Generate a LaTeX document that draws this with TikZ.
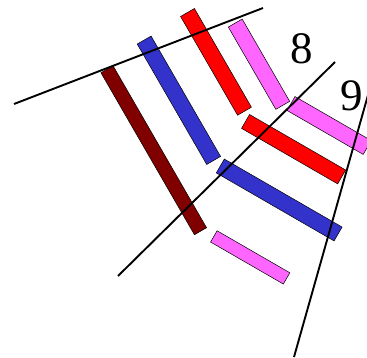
\documentclass[tikz,border=0pt]{standalone}
\usepackage{fontspec}
\setmainfont{Liberation Serif}
\definecolor{maroonc}{RGB}{128,0,0}
\definecolor{bluec}{RGB}{51,51,204}
\definecolor{redc}{RGB}{255,0,0}
\definecolor{pinkc}{RGB}{255,102,255}
\tikzset{
  bar/.style={draw=black, line width=0.5pt, inner sep=0pt, outer sep=0pt, rectangle},
  steepbar/.style={bar, rotate=-60},
  flatbar/.style={bar, rotate=-30},
  guide/.style={draw=black, line width=1.9pt},
  digit/.style={inner sep=0pt, font=\fontsize{45}{54}\selectfont}
}
\begin{document}
\begin{tikzpicture}[x=1pt,y=-1pt]
\useasboundingbox (0,0) rectangle (367,358);
% steep bars
\node[steepbar, fill=maroonc, minimum width=187pt, minimum height=14pt] (b1) at (153.75,150.25) {};
\node[steepbar, fill=bluec, minimum width=139pt, minimum height=16pt] (b2) at (178.9,100.25) {};
\node[steepbar, fill=redc, minimum width=114pt, minimum height=16pt] (b3) at (216,61.85) {};
\node[steepbar, fill=pinkc, minimum width=95pt, minimum height=16pt] (b4) at (259,64.2) {};
% shallow bars
\node[flatbar, fill=pinkc, minimum width=88pt, minimum height=16pt] (b5) at (329.1,125.5) {};
\node[flatbar, fill=redc, minimum width=111pt, minimum height=16pt] (b6) at (293.6,149.2) {};
\node[flatbar, fill=bluec, minimum width=136pt, minimum height=16pt] (b7) at (279.2,200) {};
\node[flatbar, fill=pinkc, minimum width=84pt, minimum height=13pt] (b8) at (250.2,257.4) {};
% lines
\coordinate (l1a) at (14,104);
\coordinate (l1b) at (263,8);
\coordinate (l2a) at (118,276);
\coordinate (l2b) at (335,62);
\coordinate (l3a) at (294,357);
\coordinate (l3b) at (370,88);
\draw[guide] (l1a) -- (l1b);
\draw[guide] (l2a) -- (l2b);
\draw[guide] (l3a) -- (l3b);
% labels
\node[digit] (n8) at (301.7,49) {8};
\node[digit] (n9) at (351.7,96) {9};
\end{tikzpicture}
\end{document}
